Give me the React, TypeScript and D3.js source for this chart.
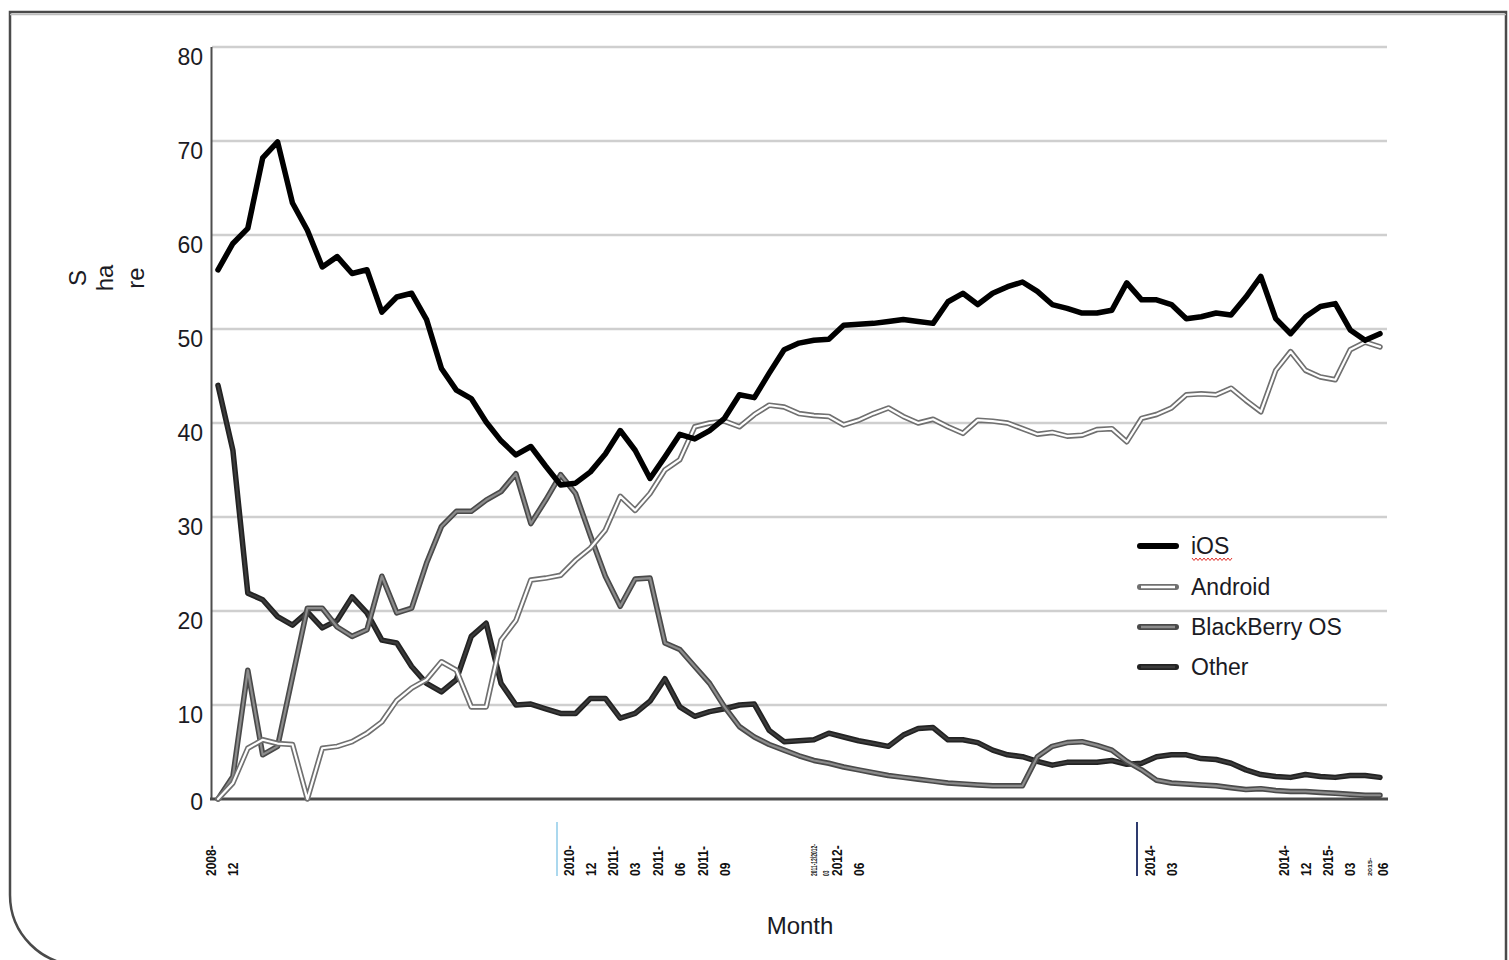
import React from "react";
import * as d3 from "d3";

const months = [
  "2008-12",
  "2009-01","2009-02","2009-03","2009-04","2009-05","2009-06","2009-07","2009-08","2009-09","2009-10","2009-11","2009-12",
  "2010-01","2010-02","2010-03","2010-04","2010-05","2010-06","2010-07","2010-08","2010-09","2010-10","2010-11","2010-12",
  "2011-01","2011-02","2011-03","2011-04","2011-05","2011-06","2011-07","2011-08","2011-09","2011-10","2011-11","2011-12",
  "2012-01","2012-02","2012-03","2012-04","2012-05","2012-06","2012-07","2012-08","2012-09","2012-10","2012-11","2012-12",
  "2013-01","2013-02","2013-03","2013-04","2013-05","2013-06","2013-07","2013-08","2013-09","2013-10","2013-11","2013-12",
  "2014-01","2014-02","2014-03","2014-04","2014-05","2014-06","2014-07","2014-08","2014-09","2014-10","2014-11","2014-12",
  "2015-01","2015-02","2015-03","2015-04","2015-05","2015-06",
];

const iosValues = [
  56.3, 59.1, 60.7, 68.2, 69.9, 63.4, 60.5, 56.6, 57.7, 55.9, 56.3, 51.8, 53.4, 53.8, 51.0, 45.8,
  43.5, 42.6, 40.1, 38.1, 36.6, 37.5, 35.4, 33.4, 33.6, 34.8, 36.7, 39.2, 37.1, 34.1, 36.4, 38.8,
  38.3, 39.2, 40.5, 43.0, 42.7, 45.3, 47.8, 48.5, 48.8, 48.9, 50.4, 50.5, 50.6, 50.8, 51.0, 50.8,
  50.6, 52.9, 53.8, 52.6, 53.8, 54.5, 55.0, 54.0, 52.6, 52.2, 51.7, 51.7, 52.0, 54.9, 53.1, 53.1,
  52.6, 51.1, 51.3, 51.7, 51.5, 53.4, 55.6, 51.1, 49.5, 51.3, 52.4, 52.7, 49.9, 48.8, 49.5,
];

const androidValues = [
  0, 1.7, 5.4, 6.3, 5.9, 5.8, 0, 5.4, 5.6, 6.1, 7.0, 8.2, 10.5, 11.8, 12.7, 14.6,
  13.7, 9.8, 9.8, 16.9, 19.0, 23.3, 23.5, 23.8, 25.4, 26.7, 28.6, 32.2, 30.7, 32.5, 35.0, 36.1,
  39.6, 40.0, 40.2, 39.6, 40.9, 41.9, 41.7, 41.0, 40.8, 40.7, 39.8, 40.3, 41.0, 41.6, 40.7, 40.0,
  40.4, 39.6, 38.9, 40.3, 40.2, 40.0, 39.4, 38.8, 39.0, 38.6, 38.7, 39.3, 39.4, 38.0, 40.5, 40.9,
  41.6, 43.0, 43.1, 43.0, 43.7, 42.4, 41.2, 45.6, 47.6, 45.6, 44.9, 44.6, 47.8, 48.6, 48.1,
];

const blackberryValues = [
  0, 2.4, 13.7, 4.7, 5.6, 13.0, 20.3, 20.3, 18.3, 17.3, 18.0, 23.7, 19.8, 20.3, 25.1, 29.0,
  30.6, 30.6, 31.8, 32.7, 34.6, 29.3, 31.8, 34.5, 32.5, 28.0, 23.7, 20.5, 23.4, 23.5, 16.6, 15.9,
  14.1, 12.3, 9.8, 7.7, 6.6, 5.8, 5.2, 4.6, 4.1, 3.8, 3.4, 3.1, 2.8, 2.5, 2.3, 2.1,
  1.9, 1.7, 1.6, 1.5, 1.4, 1.4, 1.4, 4.5, 5.6, 6.0, 6.1, 5.7, 5.2, 4.0, 3.1, 2.0,
  1.7, 1.6, 1.5, 1.4, 1.2, 1.0, 1.1, 0.9, 0.8, 0.8, 0.7, 0.6, 0.5, 0.4, 0.4,
];

const otherValues = [
  44.0, 37.1, 21.9, 21.2, 19.4, 18.5, 19.9, 18.2, 19.0, 21.5, 19.8, 16.9, 16.6, 14.1, 12.3, 11.4,
  12.7, 17.3, 18.7, 12.3, 10.0, 10.1, 9.6, 9.1, 9.1, 10.7, 10.7, 8.6, 9.1, 10.4, 12.8, 9.8,
  8.8, 9.3, 9.6, 10.0, 10.1, 7.3, 6.1, 6.2, 6.3, 7.0, 6.6, 6.2, 5.9, 5.6, 6.8, 7.5,
  7.6, 6.3, 6.3, 6.0, 5.2, 4.7, 4.5, 4.0, 3.6, 3.9, 3.9, 3.9, 4.1, 3.7, 3.8, 4.5,
  4.7, 4.7, 4.3, 4.2, 3.8, 3.1, 2.6, 2.4, 2.3, 2.6, 2.4, 2.3, 2.5, 2.5, 2.3,
];

const seriesNames = ["iOS", "Android", "BlackBerry OS", "Other"];

const xTickMonths = [
  "2008-12", "2010-12", "2011-03", "2011-06", "2011-09", "2012-06",
  "2014-03", "2014-12", "2015-03",
];
const lastTickMonth = "2015-06";

const yTickValues = [0, 10, 20, 30, 40, 50, 60, 70, 80];

const W = 1509;
const H = 960;

type Style = { outer: string; outerW: number; inner?: string; innerW?: number };

const styles: Record<string, Style> = {
  "iOS": { outer: "#000000", outerW: 5.5 },
  "Android": { outer: "#707070", outerW: 5.5, inner: "#ffffff", innerW: 2.2 },
  "BlackBerry OS": { outer: "#4a4a4a", outerW: 5.5, inner: "#8c8c8c", innerW: 2.2 },
  "Other": { outer: "#232323", outerW: 5.5, inner: "#3c3c3c", innerW: 2 },
};

export default function App() {
  const x = d3.scalePoint<string>().domain(months).range([218, 1380]);
  const y = d3.scaleLinear().domain([0, 80]).range([799, 47]);

  const dataBySeries: Record<string, number[]> = {
    "iOS": iosValues,
    "Android": androidValues,
    "BlackBerry OS": blackberryValues,
    "Other": otherValues,
  };

  const line = d3
    .line<number>()
    .x((_, i) => x(months[i]) as number)
    .y((d) => y(d));

  const drawOrder = ["Other", "BlackBerry OS", "Android", "iOS"];
  const font = "'Liberation Sans', Arial, sans-serif";
  const textColor = "#1b1b24";

  const legendRows = [546, 587, 627, 667];

  const squiggle: string[] = [];
  for (let k = 0; k <= 20; k++) {
    const sx = 1192 + k * 2;
    const sy = k % 2 === 0 ? 558 : 560.5;
    squiggle.push(`${k === 0 ? "M" : "L"}${sx},${sy}`);
  }

  const lastX = x(lastTickMonth) as number;
  const [lastYr, lastMo] = lastTickMonth.split("-");

  return (
    <svg
      width={W}
      height={H}
      style={{ position: "absolute", left: 0, top: 0, background: "#ffffff" }}
      fontFamily={font}
    >
      <rect x={0} y={0} width={W} height={H} fill="#ffffff" />
      <path
        d="M 1506 975 L 1506 12 L 10 12 L 10 895 A 70 70 0 0 0 80 965"
        fill="none"
        stroke="#4a4a4a"
        strokeWidth={2.5}
      />
      <line x1={10} x2={1506} y1={14.5} y2={14.5} stroke="#bdbdbd" strokeWidth={1.5} />

      {yTickValues.filter((v) => v > 0).map((v) => (
        <line key={v} x1={212} x2={1387} y1={y(v)} y2={y(v)} stroke="#cfcfcf" strokeWidth={2.5} />
      ))}

      <line x1={211.5} x2={211.5} y1={y(80)} y2={y(0) + 1} stroke="#4d4d4d" strokeWidth={2} />
      <line x1={210} x2={1388} y1={y(0)} y2={y(0)} stroke="#4a4a4a" strokeWidth={3} />

      {yTickValues.map((v) => (
        <text
          key={v}
          x={203}
          y={y(v) + (v === 0 ? 3 : 10)}
          textAnchor="end"
          dominantBaseline="central"
          fontSize={23}
          fill={textColor}
        >
          {v}
        </text>
      ))}

      <g transform="translate(0,278) rotate(-90)" fontSize={24} fill={textColor} textAnchor="middle">
        <text x={0} y={86}>S</text>
        <text x={0} y={113}>ha</text>
        <text x={0} y={144}>re</text>
      </g>

      {drawOrder.map((name) => {
        const st = styles[name];
        const d = line(dataBySeries[name]) || "";
        return (
          <g key={name}>
            <path d={d} fill="none" stroke={st.outer} strokeWidth={st.outerW} strokeLinejoin="round" strokeLinecap="round" />
            {st.inner && (
              <path d={d} fill="none" stroke={st.inner} strokeWidth={st.innerW} strokeLinejoin="round" strokeLinecap="round" />
            )}
          </g>
        );
      })}

      {xTickMonths.map((m) => {
        const cx = x(m) as number;
        const [yr, mo] = m.split("-");
        return (
          <g key={m} transform={`translate(${cx},876) rotate(-90) scale(0.8,1)`} fontSize={15} fontWeight={700} fill="#111">
            <text x={0} y={-2}>{yr + "-"}</text>
            <text x={0} y={20}>{mo}</text>
          </g>
        );
      })}
      <g transform={`translate(${lastX},876) rotate(-90)`} fill="#111" fontWeight={700}>
        <text x={0} y={-13} fontSize={8} transform="scale(0.9,0.6)">{lastYr + "-"}</text>
        <text x={0} y={8} fontSize={15} transform="scale(0.8,1)">{lastMo}</text>
      </g>
      <g transform="translate(817,876) rotate(-90) scale(0.55,1)" fontSize={9} fontWeight={700} fill="#222">
        <text x={0} y={0}>2011-12/2012-</text>
        <text x={0} y={12}>03</text>
      </g>
      <line x1={557} x2={557} y1={822} y2={876} stroke="#8fcbe8" strokeWidth={1.5} />
      <line x1={1137} x2={1137} y1={822} y2={876} stroke="#2e3b6e" strokeWidth={2} />

      <text x={800} y={934} textAnchor="middle" fontSize={24} fill={textColor}>Month</text>

      {seriesNames.map((name, i) => {
        const st = styles[name];
        const ly = legendRows[i];
        return (
          <g key={name}>
            <line x1={1140} x2={1176} y1={ly} y2={ly} stroke={st.outer} strokeWidth={6} strokeLinecap="round" />
            {st.inner && (
              <line x1={1141} x2={1175} y1={ly} y2={ly} stroke={st.inner} strokeWidth={2.4} />
            )}
            <text x={1191} y={ly} dominantBaseline="central" fontSize={23} fill={textColor}>
              {name}
            </text>
          </g>
        );
      })}
      <path d={squiggle.join(" ")} fill="none" stroke="#e0302a" strokeWidth={1} />
    </svg>
  );
}
